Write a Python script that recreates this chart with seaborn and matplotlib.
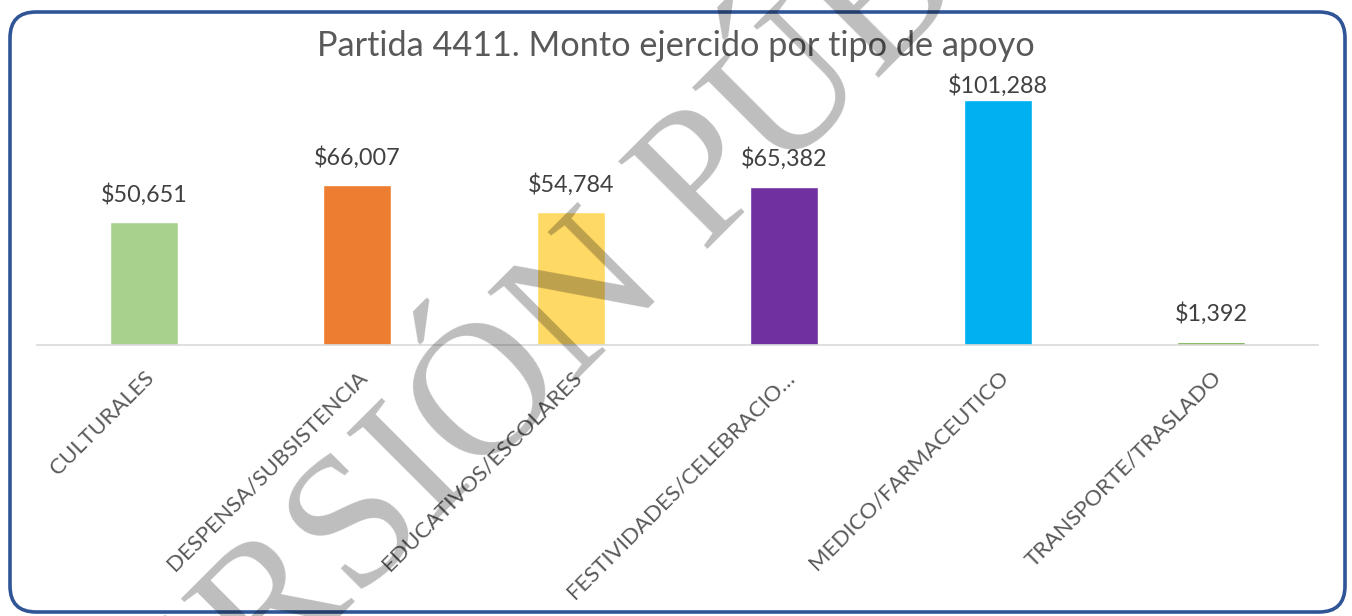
import matplotlib
matplotlib.use("Agg")
import matplotlib.pyplot as plt
from matplotlib.patches import FancyBboxPatch
from matplotlib.transforms import IdentityTransform
import seaborn as sns

# Datos del gráfico
categorias = ["CULTURALES", "DESPENSA/SUBSISTENCIA", "EDUCATIVOS/ESCOLARES",
              "FESTIVIDADES/CELEBRACIO…", "MEDICO/FARMACEUTICO", "TRANSPORTE/TRASLADO"]
montos = [50651, 66007, 54784, 65382, 101288, 1392]
colores = ["#A9D18E", "#ED7D31", "#FFD966", "#7030A0", "#00B0F0", "#70AD47"]
titulo = "Partida 4411. Monto ejercido por tipo de apoyo"
marca_agua = "VERSIÓN PÚBLICA"

sns.set_theme(style="white")
plt.rcParams["font.family"] = ["Lato", "DejaVu Sans"]

fig = plt.figure(figsize=(13.52, 6.16), dpi=100)
ax = fig.add_axes([0.0274, 0.44, 0.9475, 0.42])

sns.barplot(x=categorias, y=montos, hue=categorias, palette=colores,
            legend=False, width=0.32, saturation=1, ax=ax)

# Etiquetas de valor (la barra más alta queda pegada al borde del área, como en Excel)
for cont in ax.containers:
    alto = cont.datavalues[0]
    relleno = 2 if alto == max(montos) else 12
    ax.bar_label(cont, fmt="${:,.0f}", padding=relleno, fontsize=16.8, color="#404040")

ax.set_ylim(0, 107000)
ax.set_yticks([])
ax.set_ylabel("")
ax.set_xlabel("")
for lado in ["top", "right", "left"]:
    ax.spines[lado].set_visible(False)
ax.spines["bottom"].set_color("#D9D9D9")
ax.spines["bottom"].set_linewidth(1.2)
ax.tick_params(axis="x", length=0, pad=16)
ax.set_xticklabels(categorias, rotation=45, ha="right", rotation_mode="anchor",
                   fontsize=16, color="#595959")

fig.text(0.5, 0.925, titulo, ha="center", va="center", fontsize=24.7, color="#595959")

# Marco redondeado
marco = FancyBboxPatch((10, 4), 1335, 600, boxstyle="round,pad=0,rounding_size=26",
                       transform=IdentityTransform(), fill=False,
                       edgecolor="#2F5597", linewidth=2.6, zorder=10)
fig.patches.append(marco)

# Marca de agua
fig.text(0.505, 0.555, marca_agua, rotation=45, rotation_mode="anchor",
         ha="center", va="baseline", fontsize=137, family=["Liberation Serif"],
         color="black", alpha=0.26, zorder=20)

fig.savefig("out.png", dpi=100)
